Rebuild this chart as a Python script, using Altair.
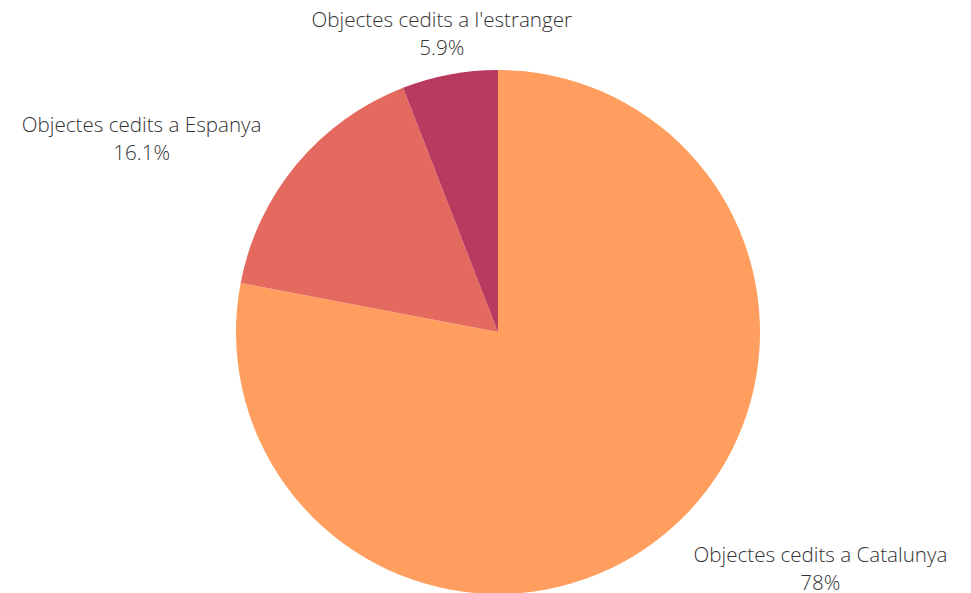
import altair as alt
import pandas as pd

categories = ["Objectes cedits a Catalunya", "Objectes cedits a Espanya", "Objectes cedits a l'estranger"]
values = [78.0, 16.1, 5.9]
pct_labels = ["78%", "16.1%", "5.9%"]
colors = ["#FF9E5E", "#E4695F", "#B83A5E"]

df = pd.DataFrame({
    "cat": categories,
    "value": values,
    "pct": pct_labels,
    "idx": list(range(len(categories))),
})
df["label"] = df["cat"] + "\n" + df["pct"]

CX, CY, R, RL = 490, 324, 262, 305
FONT = "Open Sans"
LH = 28

base = alt.Chart(df)

pie = base.mark_arc(stroke=None).encode(
    theta=alt.Theta("value:Q", stack=True),
    order=alt.Order("idx:Q"),
    color=alt.Color("cat:N", scale=alt.Scale(domain=categories, range=colors), legend=None),
    x=alt.value(CX),
    y=alt.value(CY),
    radius=alt.value(R),
)

lab = base.transform_window(
    cum="sum(value)", sort=[alt.SortField("idx")], frame=[None, 0]
).transform_joinaggregate(
    total="sum(value)"
).transform_calculate(
    mid="(datum.cum - datum.value/2) / datum.total * 100",
    s="sin((datum.cum - datum.value/2) / datum.total * 2 * PI)",
)

def text_layer(cond, dx):
    return lab.transform_filter(cond).mark_text(
        align="center", baseline="middle", lineBreak="\n", font=FONT,
        fontSize=20.6, fontWeight=300, lineHeight=LH, color="#333333",
        dy=-LH / 2 + 3, dx=dx,
    ).encode(
        theta=alt.Theta("mid:Q", stack=False, scale=alt.Scale(domain=[0, 100])),
        text="label:N",
        x=alt.value(CX),
        y=alt.value(CY),
        radius=alt.value(RL),
    )

chart = alt.layer(
    pie,
    text_layer("datum.s >= 0.3", 128),
    text_layer("datum.s <= -0.3", -122),
    text_layer("abs(datum.s) < 0.3", 0),
).properties(
    width=955, height=585, padding=0, autosize=alt.AutoSizeParams(type="none")
).configure_view(stroke=None)

chart.save("out.html", embed_options={"renderer": "svg", "actions": False})
